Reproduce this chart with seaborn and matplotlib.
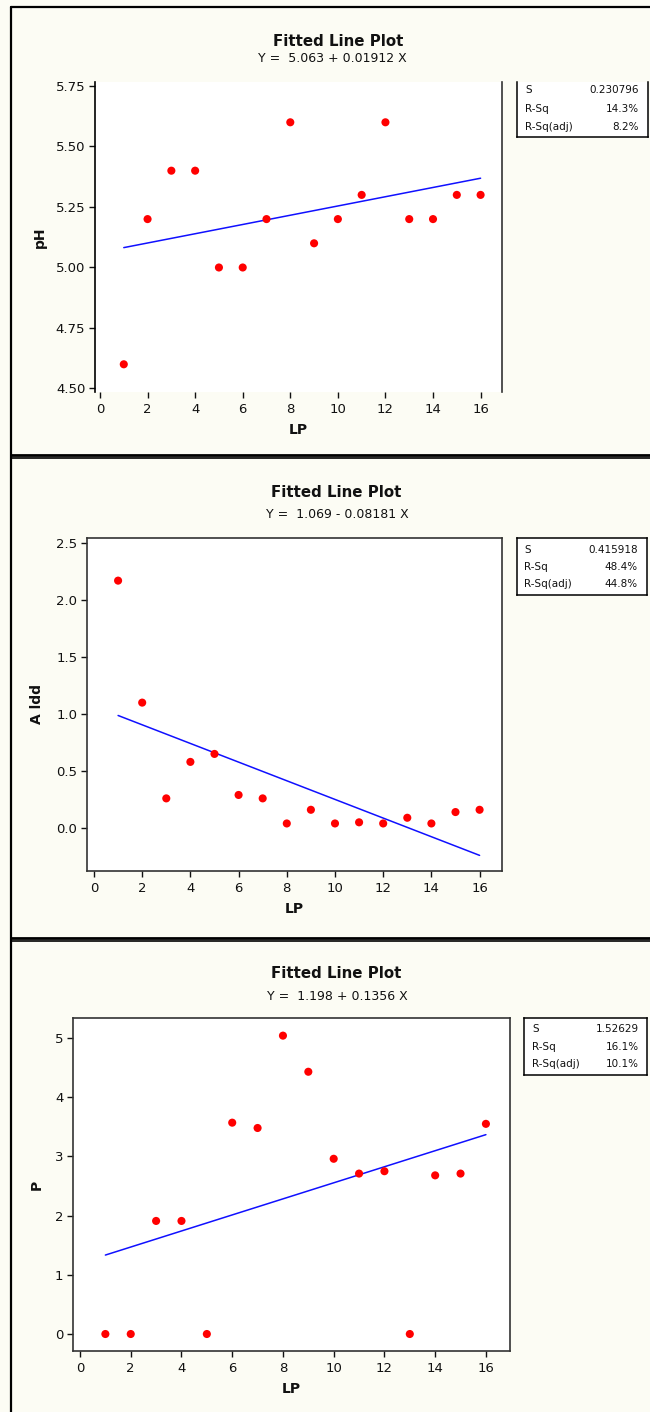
import numpy as np
import pandas as pd
import matplotlib
matplotlib.use("Agg")
import matplotlib.pyplot as plt
import seaborn as sns

W, H = 650, 1412

# data
lp = list(range(1, 17))
ph = [4.60, 5.20, 5.40, 5.40, 5.00, 5.00, 5.20, 5.60, 5.10, 5.20, 5.30, 5.60, 5.20, 5.20, 5.30, 5.30]
aldd = [2.17, 1.10, 0.26, 0.58, 0.65, 0.29, 0.26, 0.04, 0.16, 0.04, 0.05, 0.04, 0.09, 0.04, 0.14, 0.16]
p_vals = [0.0, 0.0, 1.91, 1.91, 0.0, 3.57, 3.48, 5.04, 4.43, 2.96, 2.71, 2.75, 0.0, 2.68, 2.71, 3.55]

ylabels = ["pH", "A ldd", "P"]
intercepts = [5.063, 1.069, 1.198]
slopes = [0.01912, -0.08181, 0.1356]
equations = ["Y =  5.063 + 0.01912 X", "Y =  1.069 - 0.08181 X", "Y =  1.198 + 0.1356 X"]
stat_names = ["S", "R-Sq", "R-Sq(adj)"]
stat_vals = [["0.230796", "14.3%", "8.2%"],
             ["0.415918", "48.4%", "44.8%"],
             ["1.52629", "16.1%", "10.1%"]]
xticks = [0, 2, 4, 6, 8, 10, 12, 14, 16]
yticks = [[4.50, 4.75, 5.00, 5.25, 5.50, 5.75],
          [0.0, 0.5, 1.0, 1.5, 2.0, 2.5],
          [0, 1, 2, 3, 4, 5]]
yfmt = ["{:.2f}", "{:.1f}", "{:.0f}"]

df = pd.DataFrame({"LP": lp, "pH": ph, "A ldd": aldd, "P": p_vals})

sns.set_style("ticks")
plt.rcParams['font.family'] = ['DejaVu Sans']

cream = "#fcfcf4"
fig = plt.figure(figsize=(W / 100, H / 100), dpi=100, facecolor=cream)


def px_axes(l, t, r, b):
    return fig.add_axes([l / W, 1 - b / H, (r - l) / W, (b - t) / H])


# background layer in pixel coords for the window frames
bg = fig.add_axes([0, 0, 1, 1])
bg.set_xlim(0, W)
bg.set_ylim(H, 0)
bg.axis("off")
bg.plot([11, 11], [7, H], color="black", lw=1.6)
bg.plot([11, W], [7, 7], color="black", lw=1.6)
for yy, lw in [(455, 2.0), (458, 1.2), (938, 2.0), (941, 1.2)]:
    bg.plot([11, W], [yy, yy], color="black", lw=lw)

# per panel layout (pixels): axes box, stats box, titles, label positions
layout = [
    dict(ax=(95, 82, 502, 392), box=(517, 82, 648, 137), rows=[90, 109, 127], lab_x=525, val_x=639,
         title=(338, 41), sub=(332, 58), xlim=(-0.21, 16.9), ylim=(4.4855, 5.7665)),
    dict(ax=(87, 538, 502, 871), box=(517, 538, 647, 595), rows=[550, 567, 584], lab_x=524, val_x=638,
         title=(336, 492), sub=(337, 514), xlim=(-0.29, 16.93), ylim=(-0.377, 2.544)),
    dict(ax=(73, 1018, 509.5, 1351), box=(524, 1018, 647, 1075), rows=[1029, 1047, 1064], lab_x=532, val_x=639,
         title=(336, 974), sub=(337, 996), xlim=(-0.276, 16.93), ylim=(-0.287, 5.338)),
]

for i, (col, lay) in enumerate(zip(ylabels, layout)):
    l, t, r, b = lay["ax"]
    ax = px_axes(l, t, r, b)
    ax.set_facecolor("white")

    fit_y = [intercepts[i] + slopes[i] * x for x in lp]
    sns.lineplot(x=lp, y=fit_y, ax=ax, color="#1010ff", lw=1.1, zorder=2)
    sns.scatterplot(data=df, x="LP", y=col, ax=ax, color="#ff0000", s=34,
                    edgecolor="none", linewidth=0, zorder=3)

    ax.set_xlim(*lay["xlim"])
    ax.set_ylim(*lay["ylim"])
    ax.set_xticks(xticks)
    ax.set_yticks(yticks[i])
    ax.set_yticklabels([yfmt[i].format(v) for v in yticks[i]])
    ax.tick_params(axis="both", direction="out", labelsize=9.5, colors="#111111",
                   width=1.0, length=4, pad=3)
    ax.tick_params(axis="x", pad=4)

    for sp in ax.spines.values():
        sp.set_color("#333333")
        sp.set_linewidth(1.2)
    if i == 0:
        # top panel was cropped: no top / bottom frame line
        ax.spines["top"].set_visible(False)
        ax.spines["bottom"].set_visible(False)
        ax.spines["left"].set_color("black")

    ax.set_xlabel("LP", fontsize=10, fontweight="bold", color="#111111")
    ax.set_ylabel(col, fontsize=10, fontweight="bold", color="#111111")
    ax.xaxis.set_label_coords(0.5, (b - (b + 31)) / (b - t))
    lab_right = [47, 44, 44][i]
    ax.yaxis.set_label_coords((lab_right - l) / (r - l), 0.5)

    fig.text(lay["title"][0] / W, 1 - lay["title"][1] / H, "Fitted Line Plot",
             ha="center", va="center", fontsize=10.8, fontweight="bold", color="#111111")
    fig.text(lay["sub"][0] / W, 1 - lay["sub"][1] / H, equations[i],
             ha="center", va="center", fontsize=9, color="#111111")

    # stats box
    bl, bt, br, bb = lay["box"]
    bx = px_axes(bl, bt, br, bb)
    bx.set_facecolor("white")
    bx.set_xlim(bl, br)
    bx.set_ylim(bb, bt)
    bx.set_xticks([])
    bx.set_yticks([])
    for sp in bx.spines.values():
        sp.set_color("black")
        sp.set_linewidth(1.1)
    if i == 0:
        bx.spines["top"].set_visible(False)
    for name, val, yy in zip(stat_names, stat_vals[i], lay["rows"]):
        bx.text(lay["lab_x"], yy, name, ha="left", va="center", fontsize=7.5, color="#111111", clip_on=True)
        bx.text(lay["val_x"], yy, val, ha="right", va="center", fontsize=7.5, color="#111111", clip_on=True)

fig.savefig("out.png", dpi=100, facecolor=cream)
